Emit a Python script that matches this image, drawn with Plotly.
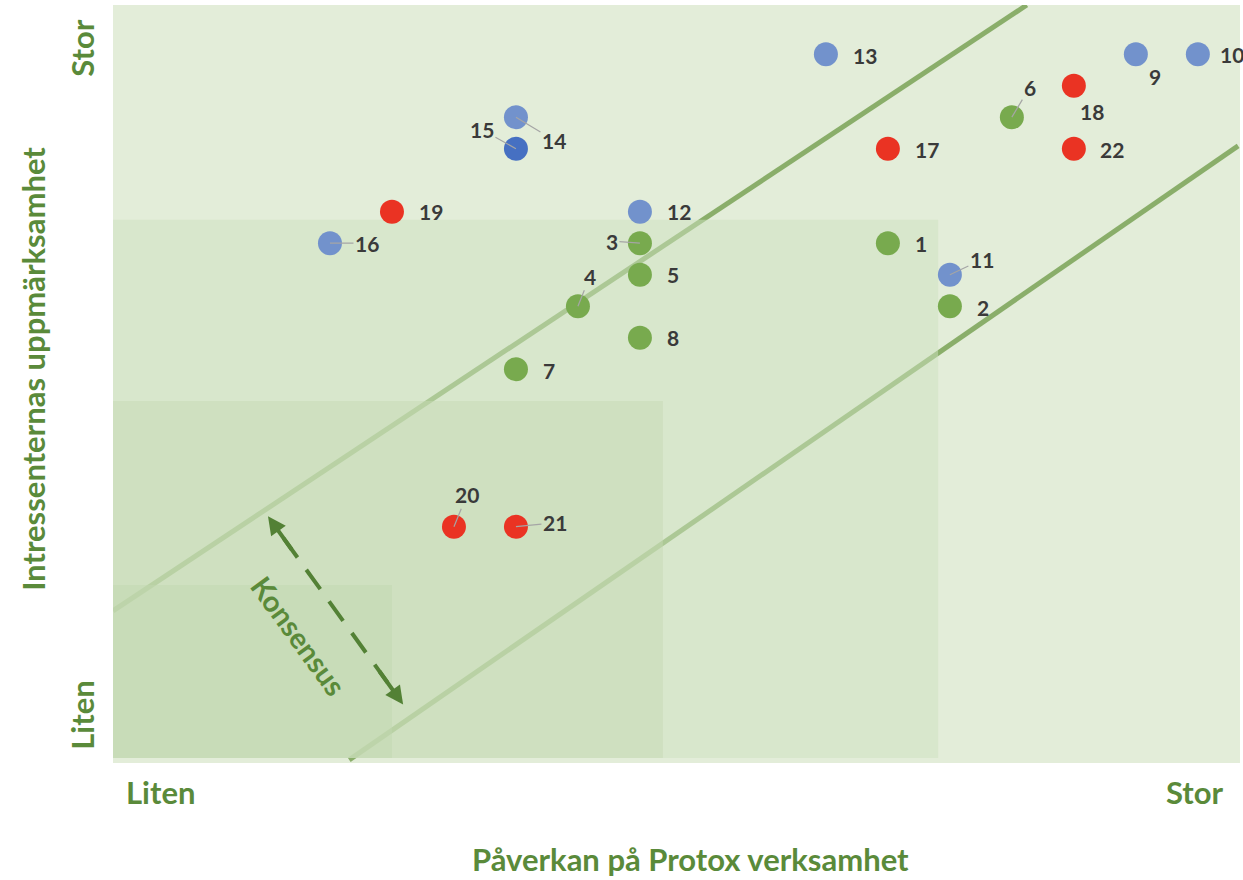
import plotly.graph_objects as go

# ---------------- data ----------------
ids = [str(i) for i in range(1, 23)]
impact = [12.5, 13.5, 8.5, 7.5, 8.5, 14.5, 6.5, 8.5,
          16.5, 17.5, 13.5, 8.5, 11.5, 6.5, 6.5, 3.5,
          12.5, 15.5, 4.5, 5.5, 6.5, 15.5]
attention = [16.5, 14.5, 16.5, 14.5, 15.5, 20.5, 12.5, 13.5,
             22.5, 22.5, 15.5, 17.5, 22.5, 20.5, 19.5, 16.5,
             19.5, 21.5, 17.5, 7.5, 7.5, 19.5]
group = ["g"] * 8 + ["b"] * 6 + ["d"] + ["b"] + ["r"] * 6

x_ticks = ["Liten", "Stor"]
y_ticks = ["Liten", "Stor"]

# ---------------- styling ----------------
COLORS = {"g": "#78aa4e", "b": "#7292cc", "d": "#4670c2", "r": "#ea3323"}
GREEN_TXT = "#5a8a3a"
LABEL_TXT = "#3a3a3a"
FONT = "Lato"
AX_SIZE = 31
LBL_SIZE = 21

XMAX = 18.18
YMAX = 24.06

# label offsets in pixels (dx, dy screen, leader?)
label_pos = {
    "1": (33, 0, False), "2": (33, 1, False), "3": (-28, -2, True),
    "4": (12, -30, True), "5": (33, 0, False), "6": (18, -30, True),
    "7": (33, 1, False), "8": (33, 0, False), "9": (19, 22, False),
    "10": (34, 0, False), "11": (32, -15, True), "12": (39, 0, False),
    "13": (39, 1, False), "14": (38, 23, True), "15": (-34, -19, True),
    "16": (37, 0, True), "17": (39, 1, False), "18": (18, 26, False),
    "19": (39, 0, False), "20": (13, -32, True), "21": (39, -4, True),
    "22": (38, 1, False),
}

fig = go.Figure()

for key in ["g", "b", "d", "r"]:
    xs = [impact[i] for i in range(22) if group[i] == key]
    ys = [attention[i] for i in range(22) if group[i] == key]
    fig.add_trace(go.Scatter(
        x=xs, y=ys, mode="markers",
        marker=dict(size=24, color=COLORS[key], line=dict(width=0)),
        showlegend=False, cliponaxis=False, hoverinfo="skip"))

shapes = []
# diagonal band lines (drawn first, below rectangles)
for (x0, y0, x1, y1) in [(0, 4.83, 14.74, YMAX), (3.81, 0.1, 18.15, 19.59)]:
    shapes.append(dict(type="line", xref="x", yref="y", x0=x0, y0=y0, x1=x1, y1=y1,
                       line=dict(color="#8aae6a", width=5), layer="below"))
# nested translucent rectangles
for (x1, y1, col) in [(13.31, 17.24, "rgba(206,225,191,0.5)"),
                      (8.87, 11.49, "rgba(197,217,179,0.5)"),
                      (4.5, 5.65, "rgba(193,216,176,0.5)")]:
    shapes.append(dict(type="rect", xref="x", yref="y", x0=0, y0=0.16, x1=x1, y1=y1,
                       fillcolor=col, line=dict(width=0), layer="below"))
# konsensus dashed arrow
kx0, ky0, kx1, ky1 = 2.5, 7.83, 4.68, 1.86
shapes.append(dict(type="line", xref="x", yref="y",
                   x0=kx0 + 0.25, y0=ky0 - 0.69, x1=kx1 - 0.25, y1=ky1 + 0.69,
                   line=dict(color="#538135", width=4, dash="24px,15px"), layer="above"))
fig.update_layout(shapes=shapes)

ann = []
for i, lab in enumerate(ids):
    dx, dy, lead = label_pos[lab]
    if lead:
        ann.append(dict(x=impact[i], y=attention[i], xref="x", yref="y", text=lab,
                        showarrow=True, arrowhead=0, arrowwidth=1.2, arrowcolor="#a5a5a5",
                        ax=dx, ay=dy, standoff=0,
                        font=dict(family=FONT, size=LBL_SIZE, color=LABEL_TXT, weight="bold")))
    else:
        ann.append(dict(x=impact[i], y=attention[i], xref="x", yref="y", text=lab,
                        showarrow=False, xshift=dx, yshift=-dy,
                        font=dict(family=FONT, size=LBL_SIZE, color=LABEL_TXT, weight="bold")))

# arrowheads of the consensus arrow
for (hx, hy, tx, ty) in [(kx0, ky0, kx0 + 0.4, ky0 - 1.1), (kx1, ky1, kx1 - 0.4, ky1 + 1.1)]:
    ann.append(dict(x=hx, y=hy, ax=tx, ay=ty, xref="x", yref="y", axref="x", ayref="y",
                    text="", showarrow=True, arrowhead=2, arrowsize=0.9, arrowwidth=4,
                    arrowcolor="#538135", standoff=0))
ann.append(dict(x=3.0, y=4.05, xref="x", yref="y", text="Konsensus", showarrow=False,
                textangle=54, font=dict(family=FONT, size=29, color=GREEN_TXT, weight="bold")))

axfont = dict(family=FONT, size=AX_SIZE, color=GREEN_TXT, weight="bold")
# axis end labels
ann += [
    dict(x=0.0, y=0, xref="x", yref="paper", yshift=-50, xshift=47, text=x_ticks[0],
         showarrow=False, font=axfont),
    dict(x=XMAX, y=0, xref="x", yref="paper", yshift=-50, xshift=-45, text=x_ticks[1],
         showarrow=False, font=axfont),
    dict(x=0, y=1.5, xref="paper", yref="y", xshift=-52, text=y_ticks[0], textangle=-90,
         showarrow=False, font=axfont),
    dict(x=0, y=22.7, xref="paper", yref="y", xshift=-52, text=y_ticks[1], textangle=-90,
         showarrow=False, font=axfont),
    dict(x=0.5, y=0, xref="paper", yref="paper", yshift=-117, xshift=14,
         text="Påverkan på Protox verksamhet", showarrow=False, font=axfont),
    dict(x=0, y=0.52, xref="paper", yref="paper", xshift=-101,
         text="Intressenternas uppmärksamhet", textangle=-90, showarrow=False, font=axfont),
]
fig.update_layout(annotations=ann)

fig.update_xaxes(range=[0, XMAX], showgrid=False, zeroline=False, showticklabels=False,
                 showline=False, fixedrange=True)
fig.update_yaxes(range=[0, YMAX], showgrid=False, zeroline=False, showticklabels=False,
                 showline=False, fixedrange=True)
fig.update_layout(width=1243, height=880, margin=dict(l=113, r=3, t=5, b=117),
                  plot_bgcolor="#e3edd9", paper_bgcolor="white", showlegend=False)

fig.write_html("out.html", config={"displayModeBar": False},
               post_script="document.body.style.margin='0';document.body.style.overflow='hidden';")
